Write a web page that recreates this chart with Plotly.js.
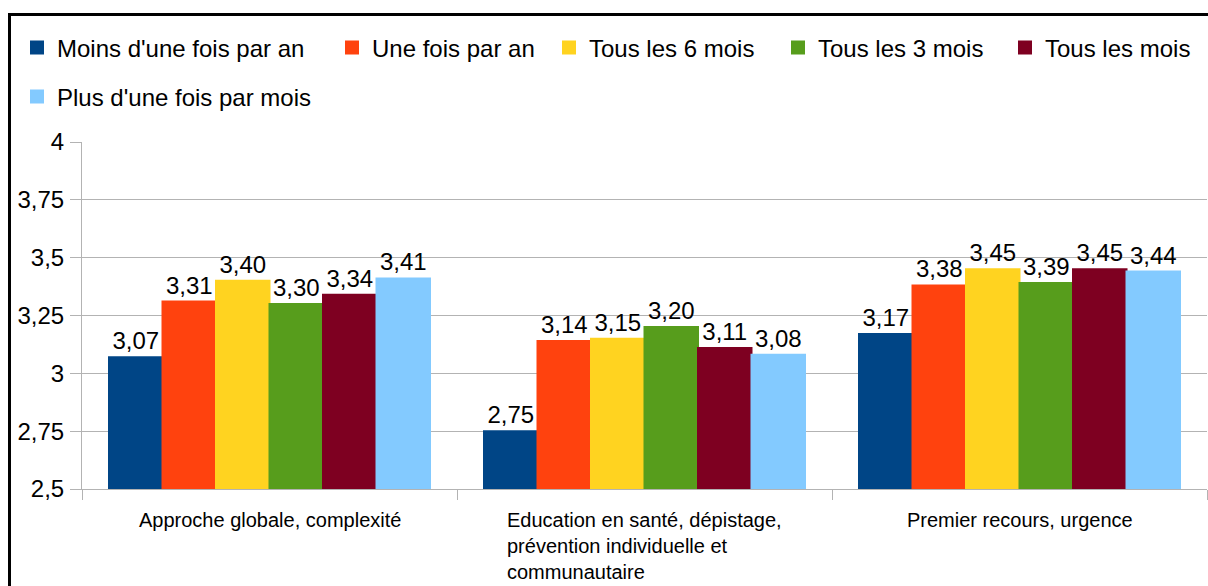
<!DOCTYPE html>
<html>
<head>
<meta charset="utf-8">
<script src="https://cdn.plot.ly/plotly-3.0.1.min.js"></script>
<style>
  html, body { margin: 0; padding: 0; background: #fff; overflow: hidden; }
  #wrap { position: relative; width: 1208px; height: 586px; }
  #chart { position: absolute; left: 0; top: 0; width: 1208px; height: 586px; }
  #frame { position: absolute; left: 8px; top: 13px; width: 1400px; height: 800px;
           border-left: 3px solid #000; border-top: 3px solid #000; pointer-events: none; }
</style>
</head>
<body>
<div id="wrap">
  <div id="chart"></div>
  <div id="frame"></div>
</div>
<script>
const categories = [
  "Approche globale, complexité",
  "Education en santé, dépistage,<br>prévention individuelle et<br>communautaire",
  "Premier recours, urgence"
];
const seriesNames = [
  "Moins d'une fois par an",
  "Une fois par an",
  "Tous les 6 mois",
  "Tous les 3 mois",
  "Tous les mois",
  "Plus d'une fois par mois"
];
const moinsUneFoisParAn   = [3.07, 2.75, 3.17];
const uneFoisParAn        = [3.31, 3.14, 3.38];
const tousLes6Mois        = [3.40, 3.15, 3.45];
const tousLes3Mois        = [3.30, 3.20, 3.39];
const tousLesMois         = [3.34, 3.11, 3.45];
const plusUneFoisParMois  = [3.41, 3.08, 3.44];
const yTickValues = [2.5, 2.75, 3, 3.25, 3.5, 3.75, 4];

const seriesValues = [moinsUneFoisParAn, uneFoisParAn, tousLes6Mois, tousLes3Mois, tousLesMois, plusUneFoisParMois];
const colors = ["#004586", "#ff420e", "#ffd320", "#579d1c", "#7e0021", "#83caff"];

const FONT = "Liberation Sans, Arial, sans-serif";

// legend placement (pixels in the page) – one legend per series so rows keep natural spacing
const legendX = [17, 332, 549, 778, 1005, 17];
const legendY = [48, 48, 48, 48, 48, 97];

const traces = seriesNames.map((name, i) => ({
  type: 'bar',
  name: name,
  x: categories,
  y: seriesValues[i],
  marker: { color: colors[i], line: { color: colors[i], width: 2 } },
  texttemplate: '%{y:.2f}',
  textposition: 'outside',
  constraintext: 'none',
  cliponaxis: false,
  textfont: { family: FONT, size: 24, color: '#000' },
  legend: i === 0 ? 'legend' : 'legend' + (i + 1),
  hoverinfo: 'skip'
}));

const layout = {
  width: 1208,
  height: 586,
  margin: { l: 82, r: 1, t: 142, b: 97, pad: 0 },
  paper_bgcolor: '#fff',
  plot_bgcolor: '#fff',
  font: { family: FONT, size: 24, color: '#000' },
  separators: ',.',
  barmode: 'group',
  bargap: 0.144,
  bargroupgap: 0,
  showlegend: true,
  hovermode: false,
  xaxis: {
    type: 'category',
    showticklabels: false,
    ticks: 'outside',
    tickson: 'boundaries',
    ticklen: 10,
    tickcolor: '#b3b3b3',
    showline: true,
    linecolor: '#b3b3b3',
    linewidth: 1,
    showgrid: false,
    fixedrange: true
  },
  yaxis: {
    range: [2.5, 4],
    tickvals: yTickValues,
    ticks: 'outside',
    ticklen: 11,
    tickcolor: '#b3b3b3',
    ticklabelstandoff: 1,
    tickfont: { family: FONT, size: 24, color: '#000' },
    showline: true,
    linecolor: '#b3b3b3',
    linewidth: 1,
    showgrid: true,
    gridcolor: '#b3b3b3',
    gridwidth: 1,
    zeroline: false,
    fixedrange: true
  },
  annotations: categories.map(c => ({
    x: c, xref: 'x',
    y: 0, yref: 'paper',
    yanchor: 'top', xanchor: 'center',
    yshift: -18,
    text: c,
    align: 'left',
    showarrow: false,
    font: { family: FONT, size: 20, color: '#000' }
  }))
};

seriesNames.forEach((n, i) => {
  const key = i === 0 ? 'legend' : 'legend' + (i + 1);
  layout[key] = {
    xref: 'container', yref: 'container',
    x: legendX[i] / 1208,
    y: 1 - legendY[i] / 586,
    xanchor: 'left', yanchor: 'middle',
    orientation: 'h',
    bgcolor: 'rgba(0,0,0,0)',
    borderwidth: 0,
    font: { family: FONT, size: 24, color: '#000' }
  };
});

Plotly.newPlot('chart', traces, layout, { displayModeBar: false, staticPlot: true });
</script>
</body>
</html>
